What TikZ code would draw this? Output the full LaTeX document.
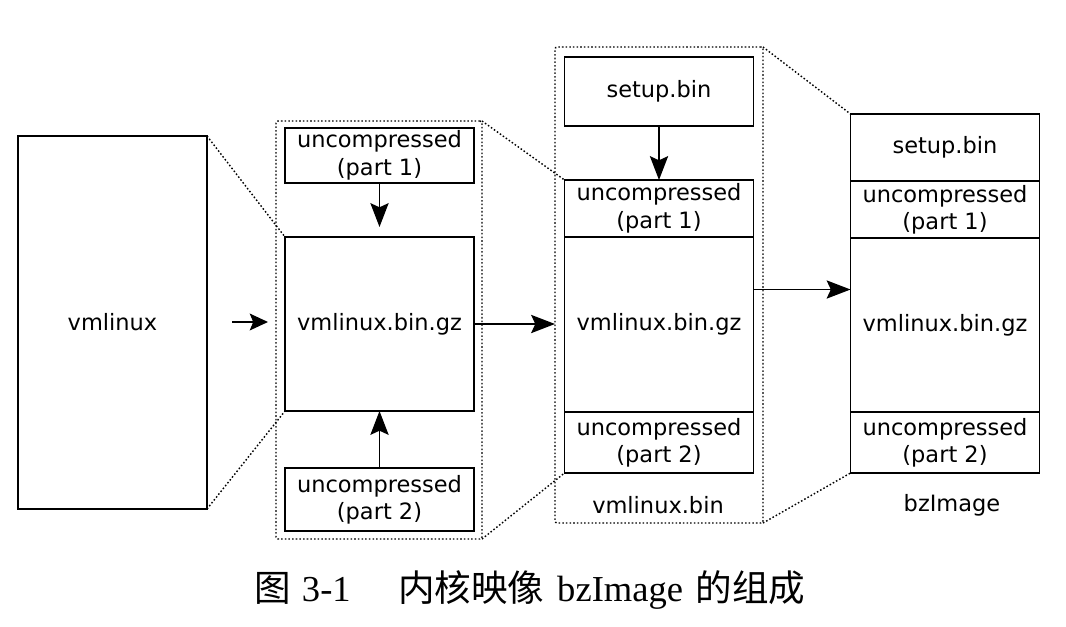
\documentclass[tikz,border=0pt]{standalone}
\usepackage{fontspec}
\setmainfont{Liberation Serif}
\setsansfont{DejaVu Sans}
\newfontfamily\cjk{Noto Sans CJK SC}
\usetikzlibrary{arrows.meta,calc}

\tikzset{
  blk/.style={draw, line width=0.9pt, inner sep=0pt, outer sep=0pt, align=center, minimum width=47.25mm},
  grp/.style={draw, dash pattern=on 1.1pt off 1.5pt, line width=1pt, inner sep=0pt, outer sep=0pt, rounded corners=1.5pt},
  dots/.style={dash pattern=on 1.1pt off 1.5pt, line width=1pt},
  arr/.style={line width=0.9pt, -{Stealth[length=17pt,width=13pt,inset=3pt]}}
}

\begin{document}
\begin{tikzpicture}[x=0.25mm, y=-0.25mm, font=\sffamily\fontsize{16}{19.5}\selectfont]
  \useasboundingbox (0,0) rectangle (1066,627);
  % vmlinux
  \node[blk, minimum height=93.25mm] (vml) at (112.5,322.5) {vmlinux};
  % first step
  \node[blk, minimum height=13.75mm] (g2p1) at (379.5,155.5) {uncompressed\\(part 1)};
  \node[blk, minimum height=43.5mm] (g2gz) at (379.5,324) {vmlinux.bin.gz};
  \node[blk, minimum height=15.75mm] (g2p2) at (379.5,499.5) {uncompressed\\(part 2)};
  \node[grp, minimum width=51.5mm, minimum height=104.5mm] (g2) at (379,330) {};
  % vmlinux.bin
  \node[blk, minimum height=17.25mm] (g3set) at (659,91.5) {setup.bin};
  \node[blk, anchor=north, minimum height=14.25mm] (g3p1) at (659,180) {uncompressed\\(part 1)};
  \node[blk, anchor=north, minimum height=43.75mm] (g3gz) at (g3p1.south) {vmlinux.bin.gz};
  \node[blk, anchor=north, minimum height=15.25mm] (g3p2) at (g3gz.south) {uncompressed\\(part 2)};
  \node[grp, minimum width=52mm, minimum height=119mm] (g3) at (659,285) {};
  \node (g3lbl) at (658,505) {vmlinux.bin};
  % bzImage
  \node[blk, anchor=north, minimum height=16.75mm] (g4set) at (945,114) {setup.bin};
  \node[blk, anchor=north, minimum height=14.25mm] (g4p1) at (g4set.south) {uncompressed\\(part 1)};
  \node[blk, anchor=north, minimum height=43.5mm] (g4gz) at (g4p1.south) {vmlinux.bin.gz};
  \node[blk, anchor=north, minimum height=15.25mm] (g4p2) at (g4gz.south) {uncompressed\\(part 2)};
  \node (g4lbl) at (952,505) {bzImage};

  \draw[dots] (vml.north east) -- (g2gz.north west); \draw[dots] (vml.south east) -- (g2gz.south west);
  \draw[dots] (g2.north east) -- (g3p1.north west); \draw[dots] (g2.south east) -- (g3p2.south west);
  \draw[dots] (g3.north east) -- (g4set.north west); \draw[dots] (g3.south east) -- (g4p2.south west);

  \coordinate (a0) at (232,322);
  \draw[arr, -{Stealth[length=13pt,width=12pt,inset=2.5pt]}, shorten >=2mm] (a0) -- (a0 -| g2.west);
  \draw[arr, shorten >=2.5mm] (g2p1) -- (g2gz); \draw[arr] (g2p2) -- (g2gz);
  \draw[arr] (g2gz.east) -- (g2gz.east -| g3.west);
  \draw[arr] (g3set) -- (g3p1);
  \coordinate (a3) at ($(g3gz.north east)!0.3!(g3gz.south east)$);
  \draw[arr] (a3) -- (a3 -| g4gz.west);

  \node[font=\rmfamily\fontsize{26}{30}\selectfont] (cap) at (530,590) {{\cjk 图}\hspace{0.3em}3-1\hspace{1.3em}{\cjk 内核映像}\hspace{0.35em}bzImage\hspace{0.35em}{\cjk 的组成}};
\end{tikzpicture}
\end{document}
